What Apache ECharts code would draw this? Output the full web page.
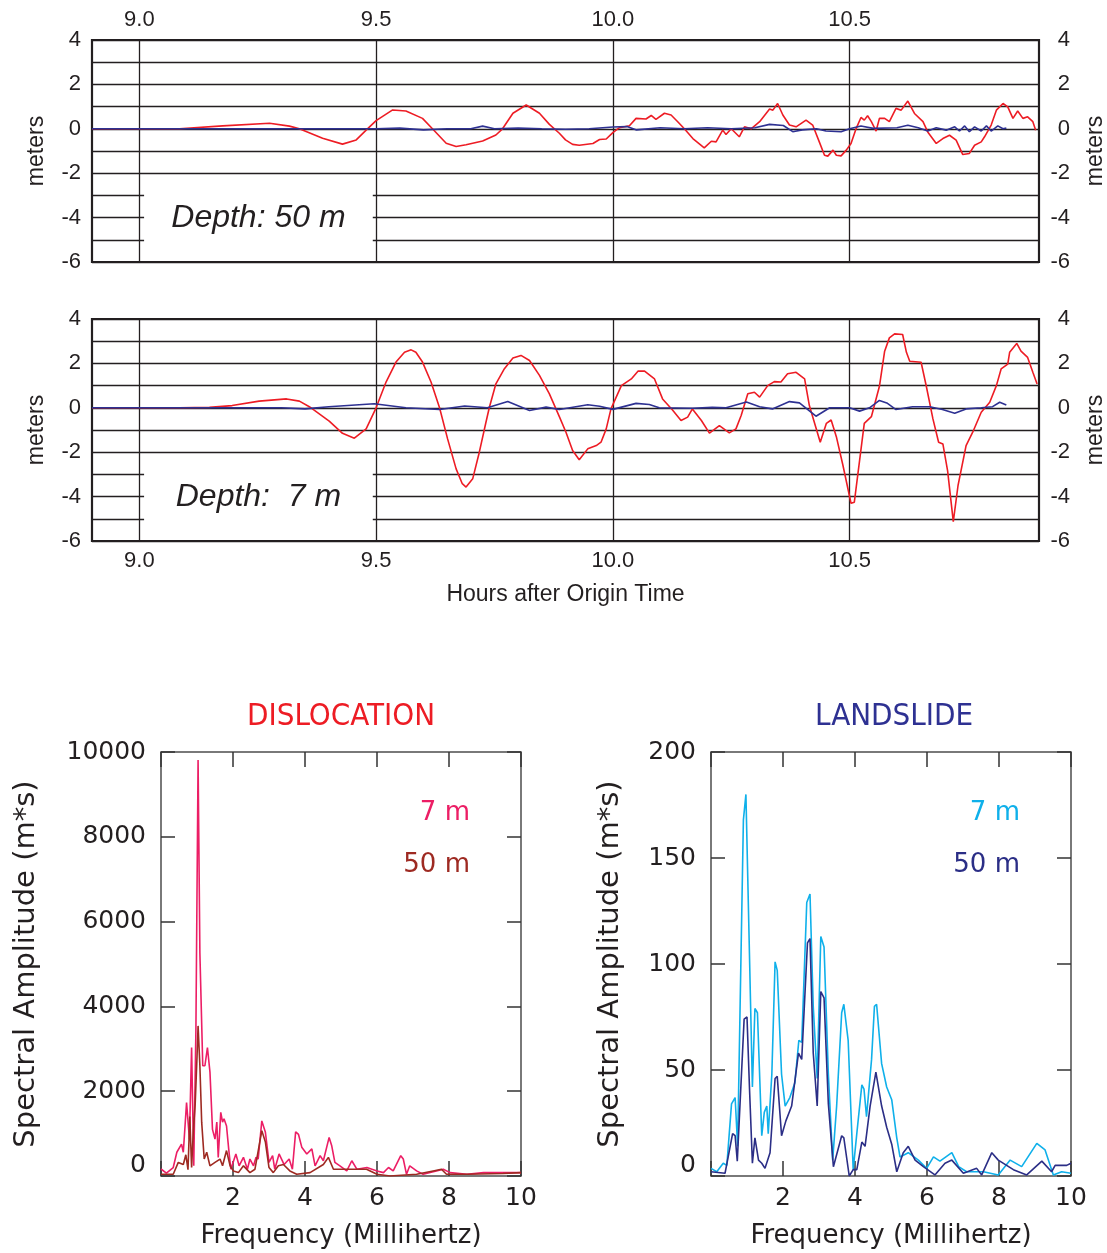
<!DOCTYPE html>
<html>
<head>
<meta charset="utf-8">
<script src="https://cdn.jsdelivr.net/npm/echarts@6/dist/echarts.min.js"></script>
<style>html,body{margin:0;padding:0;background:#fff}#c{width:1107px;height:1253px}</style>
</head>
<body>
<div id="c"></div>
<script>
// ---------- Time series (hours after origin time, metres) ----------
const timeTicks = [9.0, 9.5, 10.0, 10.5];
const meterTicks = [4, 2, 0, -2, -4, -6];

// Depth 50 m, dislocation (red)
const dislocation50 = [[8.9,0],[9.085,0],[9.176,0.13],[9.275,0.25],[9.317,0.12],[9.338,0],[9.387,-0.43],[9.429,-0.69],[9.458,-0.5],[9.479,-0.06],[9.5,0.37],[9.535,0.85],[9.563,0.8],[9.598,0.47],[9.62,-0.02],[9.648,-0.65],[9.669,-0.8],[9.69,-0.72],[9.725,-0.55],[9.753,-0.28],[9.767,0],[9.789,0.7],[9.817,1.07],[9.845,0.7],[9.866,0.2],[9.887,-0.2],[9.9,-0.5],[9.915,-0.7],[9.929,-0.74],[9.958,-0.66],[9.972,-0.48],[9.986,-0.46],[10.0,-0.17],[10.014,0.05],[10.035,0.14],[10.049,0.47],[10.07,0.44],[10.081,0.6],[10.091,0.42],[10.109,0.7],[10.123,0.62],[10.137,0.32],[10.151,0],[10.169,-0.44],[10.193,-0.86],[10.208,-0.56],[10.218,-0.59],[10.232,-0.06],[10.239,-0.26],[10.25,0],[10.267,-0.36],[10.278,0.09],[10.292,0],[10.31,0.32],[10.331,0.89],[10.338,0.84],[10.348,1.14],[10.359,0.62],[10.373,0.17],[10.387,0.09],[10.408,0.39],[10.422,0.17],[10.436,-0.59],[10.447,-1.19],[10.454,-1.23],[10.465,-0.96],[10.472,-1.19],[10.482,-1.22],[10.493,-0.96],[10.503,-0.66],[10.514,0.02],[10.524,0.51],[10.531,0.39],[10.538,0.59],[10.546,0.32],[10.556,-0.1],[10.563,0.47],[10.574,0.47],[10.584,0.32],[10.598,0.92],[10.609,0.84],[10.623,1.25],[10.637,0.69],[10.655,0.32],[10.665,-0.14],[10.683,-0.66],[10.697,-0.44],[10.711,-0.29],[10.725,-0.51],[10.739,-1.16],[10.753,-1.11],[10.764,-0.74],[10.778,-0.59],[10.785,-0.36],[10.799,0.17],[10.81,0.84],[10.824,1.14],[10.834,0.99],[10.845,0.47],[10.855,0.8],[10.866,0.47],[10.876,0.54],[10.887,0.32],[10.893,-0.06]];
// Depth 50 m, landslide (blue)
const landslide50 = [[8.9,0],[9.5,0],[9.55,0.03],[9.6,-0.05],[9.65,0],[9.7,0],[9.725,0.12],[9.75,0],[9.8,0.03],[9.85,0],[9.9,-0.02],[9.95,0],[10.0,0.08],[10.03,0.1],[10.05,-0.05],[10.1,0.05],[10.15,0],[10.2,0.05],[10.25,0],[10.3,0.05],[10.331,0.2],[10.36,0.15],[10.38,-0.13],[10.4,-0.05],[10.43,0.0],[10.45,-0.1],[10.482,-0.13],[10.5,0],[10.524,0.13],[10.55,0.02],[10.6,0.05],[10.623,0.16],[10.645,0.05],[10.665,-0.1],[10.683,0.05],[10.704,-0.06],[10.722,0.09],[10.732,-0.1],[10.743,0.13],[10.753,-0.13],[10.764,0.09],[10.778,-0.1],[10.789,0.13],[10.799,-0.1],[10.813,0.13],[10.824,0.0],[10.831,0.03]];
// Depth 7 m, dislocation (red)
const dislocation7 = [[8.9,0],[9.085,0],[9.148,0.02],[9.196,0.1],[9.253,0.3],[9.311,0.4],[9.338,0.3],[9.359,0.05],[9.401,-0.6],[9.429,-1.15],[9.454,-1.37],[9.479,-0.95],[9.5,0],[9.521,1.16],[9.542,2.06],[9.56,2.5],[9.574,2.61],[9.584,2.5],[9.598,2.06],[9.616,1.16],[9.634,0],[9.651,-1.4],[9.669,-2.75],[9.682,-3.42],[9.69,-3.57],[9.704,-3.2],[9.718,-2.0],[9.732,-0.65],[9.739,0],[9.753,1.08],[9.771,1.76],[9.789,2.24],[9.806,2.36],[9.824,2.13],[9.845,1.46],[9.866,0.63],[9.887,-0.4],[9.901,-1.1],[9.915,-1.92],[9.929,-2.34],[9.947,-1.85],[9.965,-1.7],[9.975,-1.55],[9.986,-0.95],[9.996,-0.05],[10.018,1.0],[10.039,1.3],[10.053,1.65],[10.067,1.65],[10.088,1.3],[10.105,0.4],[10.126,-0.1],[10.144,-0.57],[10.158,-0.42],[10.168,-0.05],[10.187,-0.57],[10.204,-1.14],[10.225,-0.8],[10.246,-1.13],[10.26,-0.95],[10.271,-0.35],[10.285,0.63],[10.299,0.7],[10.31,0.48],[10.327,1.0],[10.341,1.18],[10.355,1.16],[10.369,1.53],[10.387,1.6],[10.405,1.3],[10.415,0.1],[10.438,-1.55],[10.451,-0.7],[10.461,-0.55],[10.472,-1.3],[10.486,-2.6],[10.503,-4.3],[10.51,-4.25],[10.531,-0.7],[10.546,-0.4],[10.563,0.97],[10.574,2.55],[10.584,3.15],[10.595,3.33],[10.612,3.3],[10.62,2.5],[10.627,2.1],[10.651,2.05],[10.662,0.97],[10.676,-0.5],[10.688,-1.55],[10.697,-1.63],[10.707,-2.84],[10.719,-5.13],[10.729,-3.5],[10.746,-1.7],[10.76,-1.1],[10.778,-0.2],[10.796,0.25],[10.81,1.0],[10.82,1.75],[10.834,1.97],[10.838,2.5],[10.853,2.9],[10.862,2.55],[10.876,2.27],[10.887,1.6],[10.896,1.07]];
// Depth 7 m, landslide (blue)
const landslide7 = [[8.9,0],[9.3,0],[9.35,-0.05],[9.4,0.05],[9.496,0.18],[9.563,0],[9.634,-0.08],[9.687,0.08],[9.735,0],[9.778,0.28],[9.824,-0.12],[9.859,0.03],[9.887,-0.08],[9.947,0.14],[9.972,0.07],[10.0,-0.07],[10.049,0.2],[10.077,0.15],[10.098,0],[10.168,-0.02],[10.21,0.02],[10.239,0],[10.282,0.26],[10.31,0.05],[10.337,-0.05],[10.373,0.28],[10.394,0.22],[10.429,-0.38],[10.458,0],[10.5,0],[10.521,-0.15],[10.542,0],[10.563,0.33],[10.58,0.2],[10.598,-0.08],[10.633,0.05],[10.669,0.05],[10.696,-0.08],[10.722,-0.25],[10.746,-0.05],[10.778,0],[10.802,0.05],[10.817,0.25],[10.831,0.13]];

// ---------- Spectra (frequency mHz, spectral amplitude m*s) ----------
const freqTicks = [2, 4, 6, 8, 10];
const dislocSpec7 = [[0,165],[0.15,70],[0.34,200],[0.44,560],[0.57,750],[0.62,560],[0.71,1730],[0.79,870],[0.85,3030],[0.91,240],[0.97,3460],[1.03,9810],[1.08,5260],[1.16,2600],[1.22,2600],[1.29,3030],[1.36,2450],[1.43,1100],[1.5,870],[1.55,1270],[1.59,440],[1.66,1500],[1.71,1270],[1.75,1350],[1.82,1180],[1.88,640],[1.94,160],[2.08,520],[2.17,240],[2.29,440],[2.4,160],[2.47,400],[2.57,240],[2.64,440],[2.7,400],[2.8,1300],[2.9,1030],[3.0,320],[3.1,480],[3.16,160],[3.28,520],[3.42,270],[3.56,400],[3.65,160],[3.74,1040],[3.82,980],[3.91,680],[4.05,520],[4.19,640],[4.28,240],[4.42,480],[4.51,360],[4.67,910],[4.74,720],[4.83,320],[4.97,240],[5.16,120],[5.3,360],[5.44,160],[5.72,200],[6.0,120],[6.18,80],[6.32,200],[6.45,120],[6.66,480],[6.73,400],[6.82,40],[6.91,240],[7.1,120],[7.28,40],[7.65,120],[7.84,160],[8.03,80],[8.5,40],[8.96,80],[9.43,80],[10,80]];
const dislocSpec50 = [[0,40],[0.34,40],[0.48,320],[0.62,270],[0.69,500],[0.75,150],[0.8,1400],[0.85,200],[0.9,1100],[0.95,1700],[1.0,2800],[1.03,3540],[1.08,2600],[1.13,1270],[1.2,400],[1.27,560],[1.36,240],[1.5,320],[1.64,400],[1.71,240],[1.82,600],[1.92,240],[2.01,120],[2.15,80],[2.29,240],[2.47,80],[2.61,160],[2.8,1070],[2.9,800],[3.0,200],[3.12,80],[3.26,240],[3.4,270],[3.58,120],[3.77,40],[4.14,80],[4.51,270],[4.65,440],[4.79,160],[5.06,160],[5.44,160],[5.71,160],[6.0,40],[6.36,0],[7.1,40],[7.56,120],[7.79,160],[7.93,40],[8.5,40],[9.5,60],[10,80]];
const landSpec7 = [[0,3.6],[0.16,2],[0.34,6],[0.44,5],[0.57,34],[0.67,37],[0.74,14],[0.9,168],[0.97,180],[1.06,111],[1.15,42],[1.22,79],[1.29,77],[1.41,19],[1.48,30],[1.55,33],[1.59,20],[1.69,48],[1.78,101],[1.84,97],[1.96,48],[2.06,33],[2.19,37],[2.33,44],[2.44,64],[2.52,63],[2.66,129],[2.75,133],[2.84,80],[2.95,46],[3.05,113],[3.14,108],[3.26,48],[3.38,7.5],[3.49,33],[3.63,77],[3.69,81],[3.81,64],[3.95,3],[4.05,20],[4.19,43],[4.25,41],[4.32,28],[4.46,55],[4.54,80],[4.6,81],[4.74,53],[4.88,42],[5.02,36],[5.16,18],[5.25,9],[5.48,11],[5.76,7.5],[5.99,3.6],[6.18,9],[6.36,7],[6.69,11],[6.88,4.4],[7.1,2],[7.57,2],[7.98,0.5],[8.31,7.5],[8.63,4.4],[9.05,15.4],[9.28,12.3],[9.51,0.5],[9.74,2],[10,1.3]];
const landSpec50 = [[0,2],[0.39,1.3],[0.6,20],[0.67,19],[0.73,7],[0.92,74],[1.0,75],[1.07,41],[1.15,6],[1.22,18],[1.32,7.5],[1.41,6],[1.5,3.6],[1.64,11],[1.78,46],[1.84,47],[1.96,19],[2.08,26],[2.24,33],[2.43,58],[2.52,55],[2.68,110],[2.75,112],[2.84,58],[2.95,33],[3.05,87],[3.14,84],[3.26,34],[3.4,4.4],[3.63,19],[3.69,18],[3.84,0],[3.95,3],[4.05,3],[4.19,16],[4.28,14],[4.42,33],[4.58,49],[4.74,33],[4.88,23],[5.02,15],[5.16,2],[5.34,11],[5.48,14],[5.67,7.5],[5.9,4.4],[6.22,0.5],[6.5,6],[6.69,7.5],[7.01,1.3],[7.38,3.6],[7.52,0.5],[7.8,11],[7.98,7.5],[8.4,3],[8.77,0.5],[9.19,7],[9.46,2],[9.56,5],[9.88,5],[10,6]];

// ---------- styles ----------
const INK = '#231f20';
const RED = '#ed1c24', BLUE = '#2e3192';
const PINK = '#ec1e65', BROWN = '#9e2a22', CYAN = '#0fb0ea', NAVY = '#2b2e86';
const SANS = "'Liberation Sans', Arial, sans-serif";
const ROUND = "'DejaVu Sans', sans-serif";
const COND = "'DejaVu Sans Condensed', 'Liberation Sans Narrow', 'DejaVu Sans', sans-serif";

function timeX(gridIndex, position, showLabels, name) {
  return {
    type: 'value', gridIndex, position, min: 8.9, max: 10.9,
    axisLine: {show: false, onZero: false},
    axisTick: {show: false, customValues: timeTicks},
    axisLabel: {show: showLabels, customValues: timeTicks, formatter: v => v.toFixed(1),
      fontFamily: SANS, fontSize: 22, color: INK, margin: 9},
    splitLine: {show: true, lineStyle: {color: INK, width: 1.3}},
    name: name || '', nameLocation: 'middle', nameGap: 42,
    nameTextStyle: {fontFamily: SANS, fontSize: 23, color: INK}
  };
}
function meterY(gridIndex, position) {
  const right = position === 'right';
  return {
    type: 'value', gridIndex, position, min: -6, max: 4, interval: 1,
    axisLine: {show: false, onZero: false}, axisTick: {show: false},
    axisLabel: {formatter: v => (Math.round(v) % 2 === 0 ? String(v) : ''),
      fontFamily: SANS, fontSize: 22, color: INK, margin: right ? 31 : 11, align: 'right'},
    splitLine: {show: !right, lineStyle: {color: INK, width: 1.3}},
    name: 'meters', nameLocation: 'middle', nameGap: right ? 45 : 44,
    nameTextStyle: {fontFamily: SANS, fontSize: 23, color: INK}
  };
}
function freqX(gridIndex, position) {
  const top = position === 'top';
  return {
    type: 'value', gridIndex, position, min: 0, max: 10, interval: 2,
    axisLine: {show: false, onZero: false},
    axisTick: {show: true, inside: true, length: 15, lineStyle: {color: '#333', width: 1.5}},
    axisLabel: {show: !top, formatter: v => (v === 0 ? '' : String(v)),
      fontFamily: ROUND, fontSize: 25, color: INK, margin: 10},
    splitLine: {show: false},
    name: top ? '' : 'Frequency (Millihertz)', nameLocation: 'middle', nameGap: 47,
    nameTextStyle: {fontFamily: ROUND, fontSize: 26, color: INK}
  };
}
function ampY(gridIndex, position, max, interval, gap) {
  const right = position === 'right';
  return {
    type: 'value', gridIndex, position, min: 0, max, interval,
    axisLine: {show: false, onZero: false},
    axisTick: {show: true, inside: true, length: 14, lineStyle: {color: '#333', width: 1.5}},
    axisLabel: {show: !right, fontFamily: ROUND, fontSize: 25, color: INK, margin: 15,
      formatter: v => (v === 0 ? '{z|0}' : String(v)),
      rich: {z: {fontFamily: ROUND, fontSize: 25, color: INK, padding: [0, 0, 22, 0]}}},
    splitLine: {show: false},
    name: right ? '' : 'Spectral Amplitude (m*s)', nameLocation: 'middle', nameGap: gap || 120,
    nameTextStyle: {fontFamily: ROUND, fontSize: 29, color: INK}
  };
}
function depthBox(label) {
  return {
    silent: true,
    itemStyle: {color: '#ffffff', opacity: 1, borderWidth: 0},
    label: {show: true, position: 'inside', formatter: label, fontFamily: SANS,
      fontStyle: 'italic', fontSize: 32, color: INK},
    emphasis: {disabled: true},
    data: [[{xAxis: 9.01, yAxis: -5.95}, {xAxis: 9.493, yAxis: -2.08}]]
  };
}
function line(name, data, color, xi, yi, width, extra) {
  return Object.assign({
    type: 'line', name, data, xAxisIndex: xi, yAxisIndex: yi, showSymbol: false,
    symbol: 'none', smooth: false, lineStyle: {color, width}, itemStyle: {color},
    emphasis: {disabled: true}, z: 3
  }, extra || {});
}
function gridBox(left, top, width, height, color, bw) {
  return {left, top, width, height, show: true, borderColor: color, borderWidth: bw,
    backgroundColor: 'transparent', containLabel: false, outerBoundsMode: 'none'};
}

const chart = echarts.init(document.getElementById('c'), null, {renderer: 'canvas'});
chart.setOption({
  animation: false,
  backgroundColor: '#ffffff',
  title: [
    {text: 'DISLOCATION', left: 336, top: 696, textAlign: 'center',
      textStyle: {color: RED, fontFamily: COND, fontSize: 31, fontWeight: 'normal'}},
    {text: 'LANDSLIDE', left: 889, top: 696, textAlign: 'center',
      textStyle: {color: BLUE, fontFamily: COND, fontSize: 31, fontWeight: 'normal'}}
  ],
  grid: [
    gridBox(92, 40, 947, 222, INK, 2.2),
    gridBox(92, 319, 947, 222, INK, 2.2),
    gridBox(161, 752, 360, 424, '#4d4d4d', 1.5),
    gridBox(711, 752, 360, 424, '#4d4d4d', 1.5)
  ],
  xAxis: [
    timeX(0, 'top', true),
    timeX(1, 'bottom', true, 'Hours after Origin Time'),
    freqX(2, 'bottom'), freqX(2, 'top'),
    freqX(3, 'bottom'), freqX(3, 'top')
  ],
  yAxis: [
    meterY(0, 'left'), meterY(0, 'right'),
    meterY(1, 'left'), meterY(1, 'right'),
    ampY(2, 'left', 10000, 2000, 120), ampY(2, 'right', 10000, 2000),
    ampY(3, 'left', 200, 50, 86), ampY(3, 'right', 200, 50)
  ],
  graphic: [
    {type: 'text', style: {text: '7 m', x: 470, y: 813, align: 'right', verticalAlign: 'middle', font: '26px ' + ROUND, fill: PINK}},
    {type: 'text', style: {text: '50 m', x: 470, y: 865, align: 'right', verticalAlign: 'middle', font: '26px ' + ROUND, fill: BROWN}},
    {type: 'text', style: {text: '7 m', x: 1020, y: 813, align: 'right', verticalAlign: 'middle', font: '26px ' + ROUND, fill: CYAN}},
    {type: 'text', style: {text: '50 m', x: 1020, y: 865, align: 'right', verticalAlign: 'middle', font: '26px ' + ROUND, fill: NAVY}}
  ],
  series: [
    line('Dislocation 50 m', dislocation50, RED, 0, 0, 1.6, {markArea: depthBox('Depth: 50 m')}),
    line('Landslide 50 m', landslide50, BLUE, 0, 0, 1.6),
    line('Dislocation 7 m', dislocation7, RED, 1, 2, 1.6, {markArea: depthBox('Depth:  7 m')}),
    line('Landslide 7 m', landslide7, BLUE, 1, 2, 1.6),
    line('Dislocation spectrum 7 m', dislocSpec7, PINK, 2, 4, 1.6),
    line('Dislocation spectrum 50 m', dislocSpec50, BROWN, 2, 4, 1.6),
    line('Landslide spectrum 7 m', landSpec7, CYAN, 4, 6, 1.6),
    line('Landslide spectrum 50 m', landSpec50, NAVY, 4, 6, 1.6)
  ]
});
</script>
</body>
</html>
